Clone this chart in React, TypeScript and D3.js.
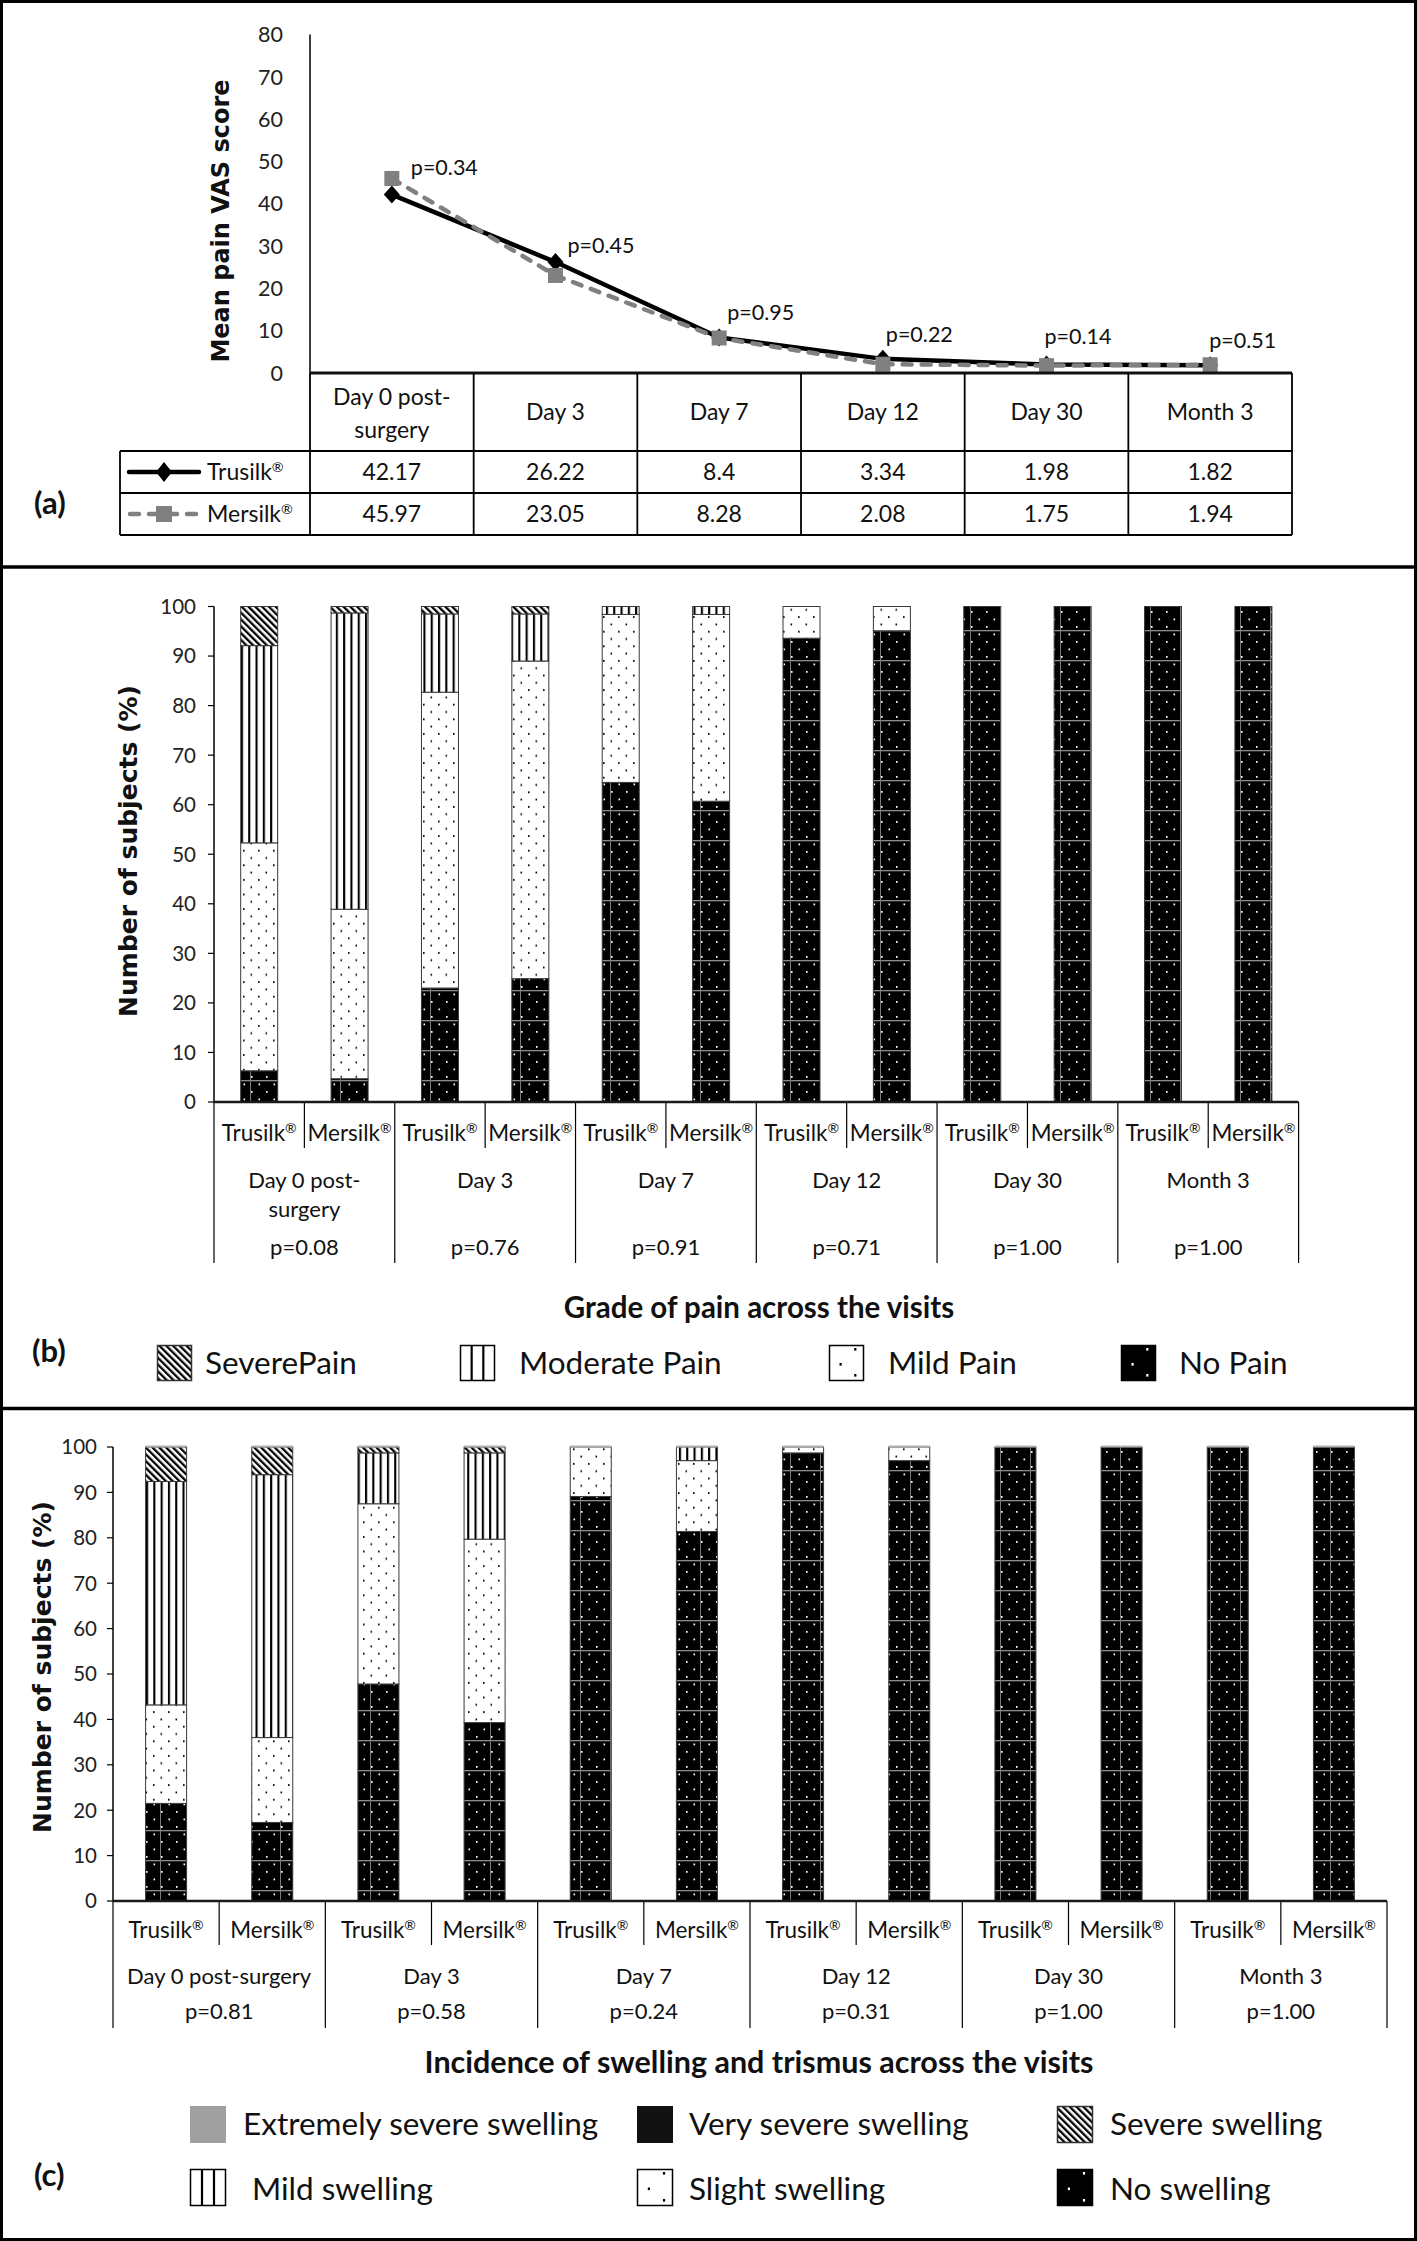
import React from 'react';
import * as d3 from 'd3';

// ---------------- DATA ----------------
const visits = ['Day 0 post-surgery', 'Day 3', 'Day 7', 'Day 12', 'Day 30', 'Month 3'];
const visitHeaderLines = [['Day 0 post-', 'surgery'], ['Day 3'], ['Day 7'], ['Day 12'], ['Day 30'], ['Month 3']];
const products = ['Trusilk®', 'Mersilk®'];

const trusilkVAS = [42.17, 26.22, 8.4, 3.34, 1.98, 1.82];
const mersilkVAS = [45.97, 23.05, 8.28, 2.08, 1.75, 1.94];
const trusilkVASText = ['42.17', '26.22', '8.4', '3.34', '1.98', '1.82'];
const mersilkVASText = ['45.97', '23.05', '8.28', '2.08', '1.75', '1.94'];
const vasPValues = ['p=0.34', 'p=0.45', 'p=0.95', 'p=0.22', 'p=0.14', 'p=0.51'];
const vasPLabelLevel = [48.6, 30.3, 14.4, 9.2, 8.7, 7.8];
const vasTicks = [0, 10, 20, 30, 40, 50, 60, 70, 80];

const percentTicks = [0, 10, 20, 30, 40, 50, 60, 70, 80, 90, 100];

const painKeys = ['No Pain', 'Mild Pain', 'Moderate Pain', 'SeverePain'];
const painNo = [6.3, 4.7, 23.0, 24.9, 64.5, 60.7, 93.6, 95.1, 100, 100, 100, 100];
const painMild = [46.0, 34.2, 59.7, 64.1, 33.9, 37.7, 6.4, 4.9, 0, 0, 0, 0];
const painModerate = [39.8, 59.8, 15.8, 9.5, 1.6, 1.6, 0, 0, 0, 0, 0, 0];
const painSevere = [7.9, 1.3, 1.5, 1.5, 0, 0, 0, 0, 0, 0, 0, 0];
const painPValues = ['p=0.08', 'p=0.76', 'p=0.91', 'p=0.71', 'p=1.00', 'p=1.00'];

const swellKeys = ['No swelling', 'Slight swelling', 'Mild swelling', 'Severe swelling', 'Very severe swelling', 'Extremely severe swelling'];
const swellNo = [21.5, 17.3, 47.8, 39.3, 89.1, 81.4, 98.7, 97.0, 100, 100, 100, 100];
const swellSlight = [21.7, 18.7, 39.7, 40.4, 10.9, 15.6, 1.3, 3.0, 0, 0, 0, 0];
const swellMild = [49.2, 57.9, 11.2, 19.0, 0, 3.0, 0, 0, 0, 0, 0, 0];
const swellSevere = [7.6, 6.1, 1.3, 1.3, 0, 0, 0, 0, 0, 0, 0, 0];
const swellVerySevere = [0, 0, 0, 0, 0, 0, 0, 0, 0, 0, 0, 0];
const swellExtreme = [0, 0, 0, 0, 0, 0, 0, 0, 0, 0, 0, 0];
const swellPValues = ['p=0.81', 'p=0.58', 'p=0.24', 'p=0.31', 'p=1.00', 'p=1.00'];

const painAxisTitle = 'Grade of pain across the visits';
const swellAxisTitle = 'Incidence of swelling and trismus across the visits';

// ---------------- STYLE ----------------
const SANS = 'Lato, "Open Sans", sans-serif';
const WIDE = '"DejaVu Sans", Verdana, sans-serif';
const GRAY = '#808080';

const fillFor: Record<string, string> = {
  'No Pain': 'url(#nopain)', 'Mild Pain': 'url(#dots)', 'Moderate Pain': 'url(#vlines)', 'SeverePain': 'url(#hatch)',
  'No swelling': 'url(#nopain)', 'Slight swelling': 'url(#dots)', 'Mild swelling': 'url(#vlines)', 'Severe swelling': 'url(#hatch)',
  'Very severe swelling': '#111111', 'Extremely severe swelling': '#a0a0a0',
};

// render "Name®" with a small raised ®
function Reg({ s }: { s: string }) {
  if (!s.endsWith('®')) return <>{s}</>;
  return (
    <>
      {s.slice(0, -1)}
      <tspan fontSize="0.62em" dy="-0.55em">®</tspan>
    </>
  );
}

function Swatch({ x, y, w, h, kind }: { x: number; y: number; w: number; h: number; kind: string }) {
  const k = kind;
  if (k === 'Very severe swelling') return <rect x={x} y={y} width={w} height={h} fill="#111" />;
  if (k === 'Extremely severe swelling') return <rect x={x} y={y} width={w} height={h} fill="#a0a0a0" />;
  if (k === 'SeverePain' || k === 'Severe swelling')
    return <rect x={x + 0.5} y={y + 0.5} width={w - 1} height={h - 1} fill="url(#hatch)" stroke="#333" strokeWidth={1.5} />;
  if (k === 'Moderate Pain' || k === 'Mild swelling')
    return (
      <g>
        <rect x={x + 0.5} y={y + 0.5} width={w - 1} height={h - 1} fill="#fff" stroke="#000" strokeWidth={1.5} />
        <line x1={x + w / 3} x2={x + w / 3} y1={y} y2={y + h} stroke="#000" strokeWidth={2.2} />
        <line x1={x + (2 * w) / 3} x2={x + (2 * w) / 3} y1={y} y2={y + h} stroke="#000" strokeWidth={2.2} />
      </g>
    );
  const dark = k === 'No Pain' || k === 'No swelling';
  const dot = dark ? '#fff' : '#000';
  return (
    <g>
      <rect x={x + 0.5} y={y + 0.5} width={w - 1} height={h - 1} fill={dark ? '#000' : '#fff'} stroke="#000" strokeWidth={1.5} />
      <rect x={x + w * 0.72} y={y + 3} width={2.2} height={2.6} fill={dot} />
      <rect x={x + w * 0.3} y={y + h * 0.5} width={2.2} height={2.6} fill={dot} />
      <rect x={x + w * 0.72} y={y + h - 7} width={2.2} height={2.6} fill={dot} />
    </g>
  );
}

function StackedPanel(props: {
  keys: string[]; series: number[][]; x0: number; x1: number; yTop: number; yBottom: number; barW: number;
  pValues: string[]; groupLines: string[][]; yProd: number; yGroup: number; yP: number; yInnerEnd: number; yGroupEnd: number;
  tickGap: number; grayTop?: boolean;
}) {
  const { keys, series, x0, x1, yTop, yBottom, barW, pValues, groupLines, yProd, yGroup, yP, yInnerEnd, yGroupEnd, tickGap, grayTop } = props;
  const bars = visits.flatMap((v) => products.map((p) => `${v}|${p}`));
  const rows = bars.map((b, i) => {
    const r: any = { id: b };
    keys.forEach((k, j) => (r[k] = series[j][i]));
    return r;
  });
  const stacked = d3.stack().keys(keys)(rows);
  const x = d3.scaleBand().domain(bars).range([x0, x1]);
  const y = d3.scaleLinear().domain([0, 100]).range([yBottom, yTop]);
  const bw = x.bandwidth();
  const off = (bw - barW) / 2;
  return (
    <g>
      {stacked.map((layer) => (
        <g key={layer.key}>
          {layer.map((d: any, i: number) =>
            d[1] - d[0] > 0 ? (
              <rect key={i} x={(x(bars[i]) as number) + off} y={y(d[1])} width={barW} height={y(d[0]) - y(d[1])}
                fill={fillFor[layer.key]} stroke="#3a3a3a" strokeWidth={1} />
            ) : null
          )}
        </g>
      ))}
      {grayTop && bars.map((b) => (
        <line key={b} x1={(x(b) as number) + off} x2={(x(b) as number) + off + barW} y1={y(100) - 0.5} y2={y(100) - 0.5} stroke="#b0b0b0" strokeWidth={2} />
      ))}
      {/* y axis */}
      <line x1={x0} x2={x0} y1={yTop} y2={yBottom} stroke="#000" strokeWidth={1.5} />
      {percentTicks.map((t) => (
        <g key={t}>
          <line x1={x0 - 6} x2={x0} y1={y(t)} y2={y(t)} stroke="#000" strokeWidth={1.2} />
          <text x={x0 - tickGap} y={y(t)} dy="0.36em" textAnchor="end" fontFamily={SANS} fontSize={20.5} fill="#222">{t}</text>
        </g>
      ))}
      {/* category axis */}
      {d3.range(bars.length + 1).map((k) => (
        <line key={k} x1={x0 + k * bw} x2={x0 + k * bw} y1={yBottom} y2={k % 2 === 0 ? yGroupEnd : yInnerEnd} stroke="#000" strokeWidth={1.2} />
      ))}
      <line x1={x0} x2={x1} y1={yBottom} y2={yBottom} stroke="#1a1a1a" strokeWidth={2.5} />
      {bars.map((b, i) => (
        <text key={b} x={(x(b) as number) + bw / 2} y={yProd} dy="0.36em" textAnchor="middle" fontFamily={SANS} fontSize={22.5} fill="#111">
          <Reg s={products[i % 2]} />
        </text>
      ))}
      {visits.map((v, g) => {
        const cx = x0 + (g * 2 + 1) * bw;
        return (
          <g key={v}>
            {groupLines[g].map((ln, li) => (
              <text key={li} x={cx} y={yGroup + li * 29} dy="0.36em" textAnchor="middle" fontFamily={SANS} fontSize={22} fill="#111">{ln}</text>
            ))}
            <text x={cx} y={yP} dy="0.36em" textAnchor="middle" fontFamily={SANS} fontSize={22} fill="#111">{pValues[g]}</text>
          </g>
        );
      })}
    </g>
  );
}

export default function App() {
  // ---- panel (a) ----
  const ax = d3.scaleBand().domain(visits).range([310, 1292]);
  const ay = d3.scaleLinear().domain([0, 80]).range([373, 34.5]);
  const cx = (i: number) => (ax(visits[i]) as number) + ax.bandwidth() / 2;
  const line = d3.line<number>().x((_, i) => cx(i)).y((d) => ay(d));
  const pNudge = [19, 12, 8, 3, -2, -1];
  const tableRows = [451, 493, 535];

  return (
    <svg width={1417} height={2241} viewBox="0 0 1417 2241" style={{ position: 'absolute', left: 0, top: 0, background: '#fff' }}>
      <defs>
        <pattern id="hatch" patternUnits="userSpaceOnUse" width={4.8} height={4.8} patternTransform="rotate(-45)">
          <rect width={4.8} height={4.8} fill="#fff" />
          <rect x={0} y={0} width={2.3} height={4.8} fill="#000" />
        </pattern>
        <pattern id="vlines" patternUnits="userSpaceOnUse" width={7.3} height={10}>
          <rect width={7.3} height={10} fill="#fff" />
          <rect x={0} y={0} width={2.1} height={10} fill="#000" />
        </pattern>
        <pattern id="dots" patternUnits="userSpaceOnUse" width={15} height={14.6}>
          <rect width={15} height={14.6} fill="#fff" />
          <rect x={3} y={3} width={1.6} height={1.8} fill="#000" />
          <rect x={10.5} y={10.3} width={1.6} height={1.8} fill="#000" />
        </pattern>
        <pattern id="nopain" patternUnits="userSpaceOnUse" width={30} height={30}>
          <rect width={30} height={30} fill="#000" />
          <rect x={0} y={0} width={30} height={1.3} fill="#8c8c8c" />
          <rect x={10} y={0} width={1} height={30} fill="#7a7a7a" />
          {[0, 15].map((ox) =>
            [0, 15].map((oy) => (
              <g key={`${ox}-${oy}`}>
                <rect x={ox + 3.5} y={oy + 3.5} width={1.6} height={1.8} fill="#fff" />
                <rect x={ox + 11} y={oy + 11} width={1.6} height={1.8} fill="#fff" />
              </g>
            ))
          )}
        </pattern>
      </defs>

      {/* frame */}
      <rect x={1.5} y={1.5} width={1414} height={2238} fill="none" stroke="#000" strokeWidth={3} />
      <line x1={0} x2={1417} y1={567} y2={567} stroke="#000" strokeWidth={3.5} />
      <line x1={0} x2={1417} y1={1408.5} y2={1408.5} stroke="#000" strokeWidth={3.5} />

      {/* ================= panel (a) ================= */}
      <text transform="translate(220,221) rotate(-90)" textAnchor="middle" dy="0.36em" fontFamily={WIDE} fontWeight="bold" fontSize={24} fill="#111">Mean pain VAS score</text>
      <line x1={310} x2={310} y1={ay(80)} y2={373} stroke="#000" strokeWidth={1.5} />
      {vasTicks.map((t) => (
        <text key={t} x={283} y={ay(t)} dy="0.36em" textAnchor="end" fontFamily={SANS} fontSize={21.5} fill="#222">{t}</text>
      ))}
      <path d={line(trusilkVAS) as string} fill="none" stroke="#000" strokeWidth={4.5} strokeLinejoin="round" />
      {trusilkVAS.map((v, i) => (
        <path key={i} d={`M${cx(i)},${ay(v) - 9}L${cx(i) + 8},${ay(v)}L${cx(i)},${ay(v) + 9}L${cx(i) - 8},${ay(v)}Z`} fill="#000" />
      ))}
      <path d={line(mersilkVAS) as string} fill="none" stroke={GRAY} strokeWidth={4.5} strokeDasharray="9 10" strokeLinecap="round" />
      {mersilkVAS.map((v, i) => (
        <rect key={i} x={cx(i) - 7.5} y={ay(v) - 7.5} width={15} height={15} fill={GRAY} />
      ))}
      {vasPValues.map((p, i) => (
        <text key={p + i} x={cx(i) + pNudge[i]} y={ay(vasPLabelLevel[i])} dy="0.36em" fontFamily={SANS} fontSize={21.5} fill="#111">{p}</text>
      ))}
      {/* table */}
      <line x1={310} x2={1292} y1={373} y2={373} stroke="#111" strokeWidth={3} />
      {d3.range(visits.length + 1).map((k) => (
        <line key={k} x1={310 + k * ax.bandwidth()} x2={310 + k * ax.bandwidth()} y1={373} y2={535} stroke="#000" strokeWidth={1.8} />
      ))}
      <line x1={120} x2={120} y1={451} y2={535} stroke="#000" strokeWidth={1.8} />
      {tableRows.map((r) => (
        <line key={r} x1={120} x2={1292} y1={r} y2={r} stroke="#000" strokeWidth={1.8} />
      ))}
      {visitHeaderLines.map((lines, i) =>
        lines.map((ln, li) => (
          <text key={`${i}-${li}`} x={cx(i)} y={lines.length === 1 ? 412 : 397 + li * 33} dy="0.36em" textAnchor="middle" fontFamily={SANS} fontSize={23} fill="#111">{ln}</text>
        ))
      )}
      {trusilkVASText.map((t, i) => (
        <text key={i} x={cx(i)} y={472} dy="0.36em" textAnchor="middle" fontFamily={SANS} fontSize={23} fill="#111">{t}</text>
      ))}
      {mersilkVASText.map((t, i) => (
        <text key={i} x={cx(i)} y={514} dy="0.36em" textAnchor="middle" fontFamily={SANS} fontSize={23} fill="#111">{t}</text>
      ))}
      {/* table legend keys */}
      <line x1={129} x2={199} y1={472} y2={472} stroke="#000" strokeWidth={4.5} strokeLinecap="round" />
      <path d="M164,462L172,472L164,482L156,472Z" fill="#000" />
      <line x1={130} x2={198} y1={514} y2={514} stroke={GRAY} strokeWidth={4.5} strokeDasharray="9 10" strokeLinecap="round" />
      <rect x={156} y={506} width={16} height={16} fill={GRAY} />
      <text x={207} y={472} dy="0.36em" fontFamily={SANS} fontSize={23} fill="#111"><Reg s={products[0]} /></text>
      <text x={207} y={514} dy="0.36em" fontFamily={SANS} fontSize={23} fill="#111"><Reg s={products[1]} /></text>
      <text x={34} y={514} fontFamily={SANS} fontWeight="bold" fontSize={31} fill="#111">(a)</text>

      {/* ================= panel (b) ================= */}
      <text transform="translate(128,851) rotate(-90)" textAnchor="middle" dy="0.36em" fontFamily={WIDE} fontWeight="bold" fontSize={25} fill="#111">Number of subjects (%)</text>
      <StackedPanel keys={painKeys} series={[painNo, painMild, painModerate, painSevere]}
        x0={214} x1={1298.6} yTop={606.5} yBottom={1102} barW={37}
        pValues={painPValues} groupLines={visitHeaderLines}
        yProd={1133} yGroup={1180} yP={1247} yInnerEnd={1148} yGroupEnd={1263} tickGap={18} />
      <text x={759} y={1318} textAnchor="middle" fontFamily={SANS} fontWeight="bold" fontSize={29.5} fill="#111">{painAxisTitle}</text>
      <text x={32} y={1362} fontFamily={SANS} fontWeight="bold" fontSize={31} fill="#111">(b)</text>
      {['SeverePain', 'Moderate Pain', 'Mild Pain', 'No Pain'].map((k, i) => {
        const sx = [157, 460, 829, 1121][i];
        const tx = [205, 519, 888, 1179][i];
        return (
          <g key={k}>
            <Swatch x={sx} y={1345} w={35} h={36} kind={k} />
            <text x={tx} y={1374} fontFamily={SANS} fontSize={31.5} fill="#111">{k}</text>
          </g>
        );
      })}

      {/* ================= panel (c) ================= */}
      <text transform="translate(42,1667) rotate(-90)" textAnchor="middle" dy="0.36em" fontFamily={WIDE} fontWeight="bold" fontSize={25} fill="#111">Number of subjects (%)</text>
      <StackedPanel keys={swellKeys} series={[swellNo, swellSlight, swellMild, swellSevere, swellVerySevere, swellExtreme]}
        x0={113} x1={1387} yTop={1447} yBottom={1901} barW={41}
        pValues={swellPValues} groupLines={visits.map((v) => [v])}
        yProd={1930} yGroup={1976} yP={2011} yInnerEnd={1945} yGroupEnd={2028} tickGap={16} grayTop />
      <text x={759} y={2073} textAnchor="middle" fontFamily={SANS} fontWeight="bold" fontSize={30.5} fill="#111">{swellAxisTitle}</text>
      <text x={34} y={2186} fontFamily={SANS} fontWeight="bold" fontSize={31} fill="#111">(c)</text>
      {['Extremely severe swelling', 'Very severe swelling', 'Severe swelling', 'Mild swelling', 'Slight swelling', 'No swelling'].map((k, i) => {
        const col = i % 3;
        const row = Math.floor(i / 3);
        const sx = [190, 637, 1057][col];
        const tx = [243, 689, 1110][col] + (row === 1 && col === 0 ? 9 : 0);
        const sy = [2106, 2169][row];
        const by = [2135, 2200][row];
        return (
          <g key={k}>
            <Swatch x={sx} y={sy} w={36} h={37} kind={k} />
            <text x={tx} y={by} fontFamily={SANS} fontSize={31.5} fill="#111">{k}</text>
          </g>
        );
      })}
    </svg>
  );
}
